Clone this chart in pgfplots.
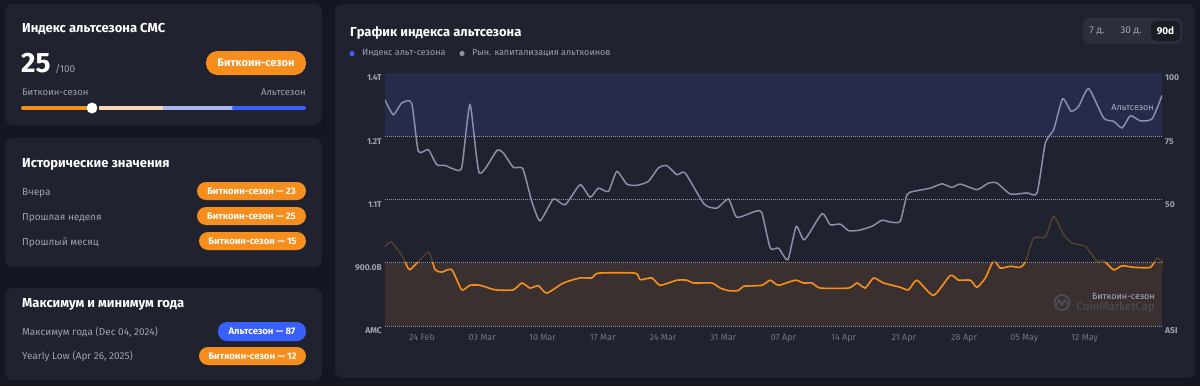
\documentclass[border=0pt]{standalone}
\usepackage{fontspec}
\setmainfont{Fira Sans}
\usepackage{pgfplots}
\usepackage{pgfplotstable}
\pgfplotsset{compat=1.18}
\definecolor{outer}{HTML}{131624}
\definecolor{card}{HTML}{20232F}
\definecolor{blueband}{HTML}{262B4B}
\definecolor{orangeband}{HTML}{3A302F}
\definecolor{cmcorange}{HTML}{F68E1E}
\definecolor{cmcblue}{HTML}{3861FB}
\definecolor{peach}{HTML}{F3D7B8}
\definecolor{lightblue}{HTML}{AAB8F0}
\definecolor{txtgray}{HTML}{9CA1B4}
\definecolor{linegray}{HTML}{8990A8}
\definecolor{dimline}{HTML}{54412F}
\definecolor{gridc}{HTML}{9095A8}
\definecolor{ticklab}{HTML}{6F7589}
\definecolor{wmark}{HTML}{4C4F5C}
\definecolor{togglebg}{HTML}{2B2E3C}
\definecolor{togglesel}{HTML}{1A1C26}

\pgfplotstableread{
d v
-4.30 89.4
-3.34 83.5
-2.36 88.1
-1.20 88.1
-0.43 69.1
0.73 69.7
1.71 63.8
2.67 63.5
3.64 62.1
4.62 62.7
5.58 87.5
6.66 60.5
8.69 69.3
9.45 68.4
10.62 62.7
11.71 62.2
12.76 49.3
13.72 41.6
15.27 50.2
16.63 47.9
18.37 55.8
19.53 50.9
20.50 54.5
21.66 53.2
22.64 61.1
23.80 56.1
24.97 55.6
26.31 57.2
27.48 62.5
28.45 63.4
29.62 59.8
30.58 60.5
32.79 48.2
34.27 46.6
35.62 50.2
36.59 43.0
38.72 45.3
39.50 44.7
40.47 30.8
41.43 30.8
42.52 26.2
43.49 39.4
44.45 34.1
46.48 44.4
47.44 40.0
48.60 40.3
49.57 37.7
50.73 37.8
52.29 39.4
53.45 41.8
54.42 41.1
55.58 41.4
56.36 51.9
57.13 53.2
59.07 54.5
60.43 56.2
61.59 54.8
62.56 56.1
64.50 53.9
65.85 56.5
66.83 56.5
68.37 52.2
70.31 52.6
71.48 52.6
72.44 72.3
73.41 77.6
74.45 89.8
75.43 84.9
76.31 86.8
77.48 93.8
79.22 82.2
80.38 80.9
81.36 78.3
82.33 83.1
83.49 81.1
84.85 81.9
86.01 91.2
}\capdata

\pgfplotstableread{
d v
-4.30 31.5
-3.52 33.2
-2.17 26.9
-1.40 22.3
0.73 29.2
1.51 22.3
2.29 21.3
3.45 22.3
4.62 14.3
5.58 16.1
6.74 16.1
8.49 14.3
10.62 14.3
11.59 17.0
12.56 15.0
13.52 15.9
14.50 13.0
16.43 17.0
18.37 19.0
19.73 19.0
20.50 20.9
24.77 20.9
25.35 18.3
26.71 19.0
27.67 16.1
29.62 18.1
30.78 18.1
31.55 17.0
33.69 17.0
34.65 15.0
35.62 14.0
36.78 14.0
37.36 15.7
39.50 16.1
40.47 18.1
41.43 16.1
43.37 18.1
44.34 17.0
45.31 17.0
46.28 15.0
49.57 15.0
50.55 17.0
51.51 15.0
52.48 19.0
53.64 17.0
55.58 15.3
56.55 14.3
57.52 18.1
59.45 12.1
61.40 20.0
62.36 18.1
63.72 18.1
64.50 15.3
65.47 19.0
66.43 25.8
67.21 22.9
68.37 23.6
69.53 23.2
70.12 25.3
71.08 34.8
72.44 35.1
73.41 43.4
74.57 36.1
75.55 32.8
77.09 31.5
78.45 25.6
79.22 25.8
80.38 22.2
81.36 23.8
82.71 23.2
84.65 23.2
85.43 26.9
86.01 25.0
}\indexdata

\newcommand{\fs}[1]{\fontsize{#1}{#1}\selectfont}

\begin{document}
\begin{tikzpicture}
\begin{scope}[x=1pt,y=-1pt]
\fill[outer] (0,0) rectangle (1200,386);
% cards
\fill[card,rounded corners=8pt] (5,4) rectangle (322,125);
\fill[card,rounded corners=8pt] (5,138) rectangle (322,267);
\fill[card,rounded corners=8pt] (5,288) rectangle (322,380);
\fill[card,rounded corners=8pt] (335,4) rectangle (1195,378);

% ---- card 1
\node[anchor=base west,inner sep=0pt,text=white] at (22,32) {\fs{13}\bfseries Индекс альтсезона CMC};
\node[anchor=base west,inner sep=0pt,text=white] at (21,72) {\fs{28}\bfseries 25};
\node[anchor=base west,inner sep=0pt,text=txtgray] at (55,72) {\fs{10}/100};
\fill[cmcorange,rounded corners=11.5pt] (206,51) rectangle (306,75);
\node[text=white,inner sep=0pt] at (256,63) {\fs{11}\bfseries Биткоин-сезон};
\node[anchor=base west,inner sep=0pt,text=txtgray] at (22,95) {\fs{9.5}Биткоин-сезон};
\node[anchor=base east,inner sep=0pt,text=txtgray] at (306,95) {\fs{9.5}Альтсезон};
\draw[line width=4pt,cmcorange,line cap=round] (23,108) -- (86,108);
\draw[line width=4pt,peach] (99,108) -- (163,108);
\draw[line width=4pt,lightblue] (163,108) -- (234,108);
\draw[line width=4pt,cmcblue,line cap=round] (234,108) -- (304,108);
\fill[white] (92,108) circle (5.5pt);

% ---- card 2
\node[anchor=base west,inner sep=0pt,text=white] at (22,167) {\fs{13}\bfseries Исторические значения};
\node[anchor=base west,inner sep=0pt,text=txtgray] at (22,195) {\fs{10}Вчера};
\node[anchor=base west,inner sep=0pt,text=txtgray] at (22,220) {\fs{10}Прошлая неделя};
\node[anchor=base west,inner sep=0pt,text=txtgray] at (22,245) {\fs{10}Прошлый месяц};
\fill[cmcorange,rounded corners=9pt] (197,182) rectangle (306,200);
\fill[cmcorange,rounded corners=9pt] (197,207) rectangle (306,225);
\fill[cmcorange,rounded corners=9pt] (199,232) rectangle (306,250);
\node[text=white,inner sep=0pt] at (251.5,191) {\fs{9.5}\bfseries Биткоин-сезон — 23};
\node[text=white,inner sep=0pt] at (251.5,216) {\fs{9.5}\bfseries Биткоин-сезон — 25};
\node[text=white,inner sep=0pt] at (252.5,241) {\fs{9.5}\bfseries Биткоин-сезон — 15};

% ---- card 3
\node[anchor=base west,inner sep=0pt,text=white] at (22,307) {\fs{13}\bfseries Максимум и минимум года};
\node[anchor=base west,inner sep=0pt,text=txtgray] at (22,335) {\fs{10}Максимум года (Dec 04, 2024)};
\node[anchor=base west,inner sep=0pt,text=txtgray] at (22,359.5) {\fs{10}Yearly Low (Apr 26, 2025)};
\fill[cmcblue,rounded corners=9pt] (218,322) rectangle (306,341);
\fill[cmcorange,rounded corners=9pt] (199,347) rectangle (306,365);
\node[text=white,inner sep=0pt] at (262,331.5) {\fs{9.5}\bfseries Альтсезон — 87};
\node[text=white,inner sep=0pt] at (252.5,356) {\fs{9.5}\bfseries Биткоин-сезон — 12};

% ---- chart card header
\node[anchor=base west,inner sep=0pt,text=white] at (350,36) {\fs{13}\bfseries График индекса альтсезона};
\fill[cmcblue] (352,53.5) circle (2.6pt);
\node[anchor=west,inner sep=0pt,text=txtgray] at (362,53.5) {\fs{9}Индекс альт-сезона};
\fill[linegray] (462,53.5) circle (2.6pt);
\node[anchor=west,inner sep=0pt,text=txtgray] at (472,53.5) {\fs{9}Рын. капитализация альткоинов};
\fill[togglebg,rounded corners=6pt] (1083,18) rectangle (1182,44);
\fill[togglesel,rounded corners=5pt] (1151,21) rectangle (1180,41);
\node[text=txtgray,inner sep=0pt] at (1097,31) {\fs{10}7 д.};
\node[text=txtgray,inner sep=0pt] at (1131,31) {\fs{10}30 д.};
\node[text=white,inner sep=0pt] at (1165.5,31) {\fs{10}\bfseries 90d};
\end{scope}

% ---- main axis
\begin{axis}[at={(385pt,-326pt)}, anchor=south west, scale only axis,
  width=777pt, height=253pt,
  xmin=-4.3, xmax=86, ymin=0, ymax=100,
  axis line style={draw=none}, major tick length=0pt,
  ytick={0,25,50,75,100}, yticklabels={AMC,900.0B,1.1T,1.2T,1.4T},
  xtick={0,7,14,21,28,35,42,49,56,63,70,77},
  xticklabels={24 Feb,03 Mar,10 Mar,17 Mar,24 Mar,31 Mar,07 Apr,14 Apr,21 Apr,28 Apr,05 May,12 May},
  yticklabel style={inner sep=0pt, anchor=east, xshift=-3pt, yshift=-5pt, font=\fs{8.5}\bfseries, text=txtgray},
  xticklabel style={inner sep=0pt, anchor=north, yshift=-8pt, font=\fs{9}, text=ticklab},
  ymajorgrids, grid style={gridc, line width=0.6pt, dash pattern=on 0.7pt off 1.3pt},
  axis on top=false, clip=true]
\fill[blueband] (axis cs:-4.3,75) rectangle (axis cs:86,100);
\fill[orangeband] (axis cs:-4.3,0) rectangle (axis cs:86,25);
\addplot[dimline, line width=1.4pt, smooth, tension=0.35] table[x=d,y=v] {\indexdata};
\addplot[linegray, line width=1.5pt, smooth, tension=0.35] table[x=d,y=v] {\capdata};
\end{axis}

% ---- orange part of index (clipped to 0-25)
\begin{axis}[at={(385pt,-326pt)}, anchor=south west, scale only axis,
  width=777pt, height=63.25pt,
  xmin=-4.3, xmax=86, ymin=0, ymax=25,
  axis line style={draw=none}, major tick length=0pt,
  xtick=\empty, ytick=\empty, clip=true]
\addplot[cmcorange, line width=1.6pt, smooth, tension=0.35] table[x=d,y=v] {\indexdata};
\end{axis}

% ---- right labels axis
\begin{axis}[at={(385pt,-326pt)}, anchor=south west, scale only axis,
  width=777pt, height=253pt,
  xmin=-4.3, xmax=86, ymin=0, ymax=100,
  axis line style={draw=none}, major tick length=0pt,
  xtick=\empty, ytick={0,50,75,100}, yticklabels={ASI,50,75,100},
  yticklabel pos=right,
  yticklabel style={inner sep=0pt, anchor=west, xshift=3pt, yshift=-5pt, font=\fs{8.5}\bfseries, text=txtgray}]
\addplot[draw=none] coordinates {(0,0)};
\node[fill=cmcorange, text=white, rounded corners=2pt, inner sep=2pt, minimum width=17pt, minimum height=15pt, anchor=west, font=\fs{10}\bfseries] at (axis cs:86,25) {25};
\end{axis}

\begin{scope}[x=1pt,y=-1pt]
\node[anchor=east,inner sep=0pt,text=txtgray!85] at (1154,107.5) {\fs{9}Альтсезон};
\node[anchor=east,inner sep=0pt,text=txtgray!85] at (1155,296.5) {\fs{9}Биткоин-сезон};
\node[anchor=east,inner sep=0pt,text=wmark] at (1155,307) {\fs{11.5}CoinMarketCap};
\draw[wmark,line width=1.6pt] (1062,302.5) circle (7.5pt);
\draw[wmark,line width=1.5pt,line join=round] (1056.5,306) -- (1058.8,299.5) -- (1062,305.5) -- (1065,299.5) -- (1067.8,304.5);
\end{scope}
\end{tikzpicture}
\end{document}
